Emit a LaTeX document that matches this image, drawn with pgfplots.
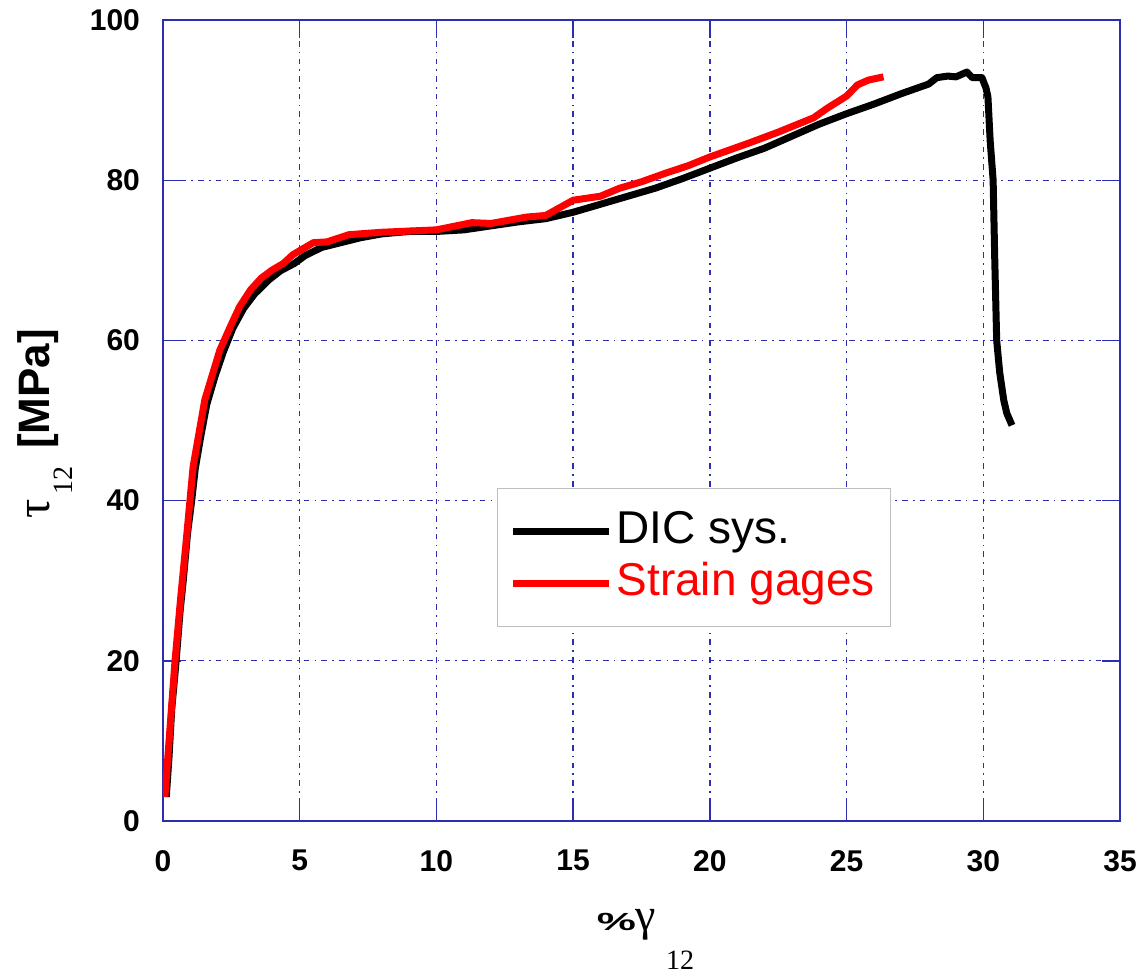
\documentclass[border=0pt]{standalone}
\usepackage{pgfplots}
\pgfplotsset{compat=1.18}
\usepackage{fontspec}
\setmainfont{Liberation Sans}
\newfontfamily\serifg{Liberation Serif}
\usepackage{graphicx}
\definecolor{gblue}{RGB}{45,45,175}
\begin{document}
\begin{tikzpicture}
\path[use as bounding box] (-81.5pt,-77.5pt) rectangle (488.5pt,410.5pt);
\begin{axis}[
  at={(0,0)}, anchor=south west,
  scale only axis, width=478.5pt, height=400.5pt,
  xmin=0, xmax=35, ymin=0, ymax=100,
  xtick={0,5,...,35}, ytick={0,20,...,100},
  tick align=inside, tick pos=both,
  major tick length=9pt,
  axis line style={gblue, line width=0.8pt},
  every tick/.style={gblue, line width=0.7pt},
  grid=major,
  major grid style={gblue, line width=0.65pt, dash pattern=on 2.8pt off 2.6pt on 0.8pt off 2.6pt},
  /pgf/number format/assume math mode=true,
  ticklabel style={font=\fontsize{15}{15}\selectfont\bfseries},
  xticklabel style={yshift=-11pt},
  yticklabel style={xshift=-8pt},
  xlabel={\scalebox{1.1}[0.62]{\bfseries\fontsize{20}{20}\selectfont\%}{\serifg\fontsize{23}{23}\selectfont γ}\hspace{5pt}\raisebox{-19.5pt}{\serifg\fontsize{14}{14}\selectfont 12}},
  xlabel style={at={(rel axis cs:0.5,0)}, anchor=base, yshift=-54.5pt, xshift=2pt},
  ylabel={{\serifg\fontsize{24}{24}\selectfont τ}\hspace{2pt}\raisebox{-11.5pt}{\serifg\fontsize{14}{14}\selectfont 12}\hspace{9pt}{\bfseries\fontsize{22}{22}\selectfont [MPa]}},
  ylabel style={at={(rel axis cs:0,0.496)}, anchor=base, yshift=56.5pt},
  legend style={at={(rel axis cs:0.349,0.416)}, anchor=north west,
    draw={rgb,255:red,190;green,190;blue,190}, line width=0.6pt, fill=white,
    font=\fontsize{23}{23}\selectfont, inner xsep=6pt, inner ysep=8.5pt,
    row sep=0pt,
    nodes={inner sep=2pt, text height=17pt, text depth=5pt}},
  legend cell align=left,
  legend image code/.code={\draw[#1] (0pt,0pt) -- (48pt,0pt);},
]
\addplot[black, line width=3.5pt, line join=round] coordinates {
(0.12,3.0) (0.22,8) (0.32,14) (0.48,20) (0.62,26) (0.74,30) (0.90,36) (1.05,40)
(1.18,44) (1.38,48) (1.60,52) (1.90,55.5) (2.20,58.5) (2.55,61.5) (2.95,64)
(3.35,65.8) (3.85,67.5) (4.30,68.7) (4.80,69.6) (5.20,70.6) (5.80,71.6) (6.50,72.2)
(7.20,72.8) (8.00,73.3) (9.00,73.6) (10.0,73.6) (11.0,73.8) (12.0,74.3) (13.0,74.8)
(14.0,75.2) (15.0,76.0) (16.0,77.0) (17.0,78.0) (18.0,79.0) (19.0,80.2) (20.0,81.5)
(21.0,82.8) (22.0,84.0) (23.0,85.5) (24.0,87.0) (25.0,88.3) (26.0,89.5) (27.0,90.8)
(28.0,92.0) (28.3,92.8) (28.7,93.0) (29.0,92.9) (29.4,93.5) (29.6,92.8) (29.95,92.8)
(30.1,91.5) (30.17,90.4) (30.25,85) (30.36,80) (30.42,70) (30.49,60) (30.6,56)
(30.75,52.5) (30.86,50.9) (31.05,49.4)
};
\addlegendentry{DIC sys.}
\addplot[red, line width=3.5pt, line join=round] coordinates {
(0.07,3) (0.20,9) (0.44,20) (0.65,28) (0.85,35) (1.10,44.2) (1.53,52.6) (2.08,58.8)
(2.50,62) (2.80,64.2) (3.20,66.3) (3.60,67.8) (4.00,68.8) (4.40,69.6) (4.75,70.7)
(5.50,72.2) (6.00,72.3) (6.80,73.2) (8.00,73.5) (10.0,73.8) (11.3,74.7) (12.0,74.6)
(13.3,75.4) (14.0,75.6) (15.0,77.5) (16.0,78.0) (16.7,79.0) (17.5,79.8) (18.4,80.9)
(19.2,81.8) (20.0,82.9) (21.4,84.6) (22.5,86.0) (23.8,87.8) (24.3,89.0) (25.0,90.5)
(25.4,91.9) (25.8,92.5) (26.35,92.9)
};
\addlegendentry{\textcolor{red}{Strain gages}}
\end{axis}
\end{tikzpicture}
\end{document}
